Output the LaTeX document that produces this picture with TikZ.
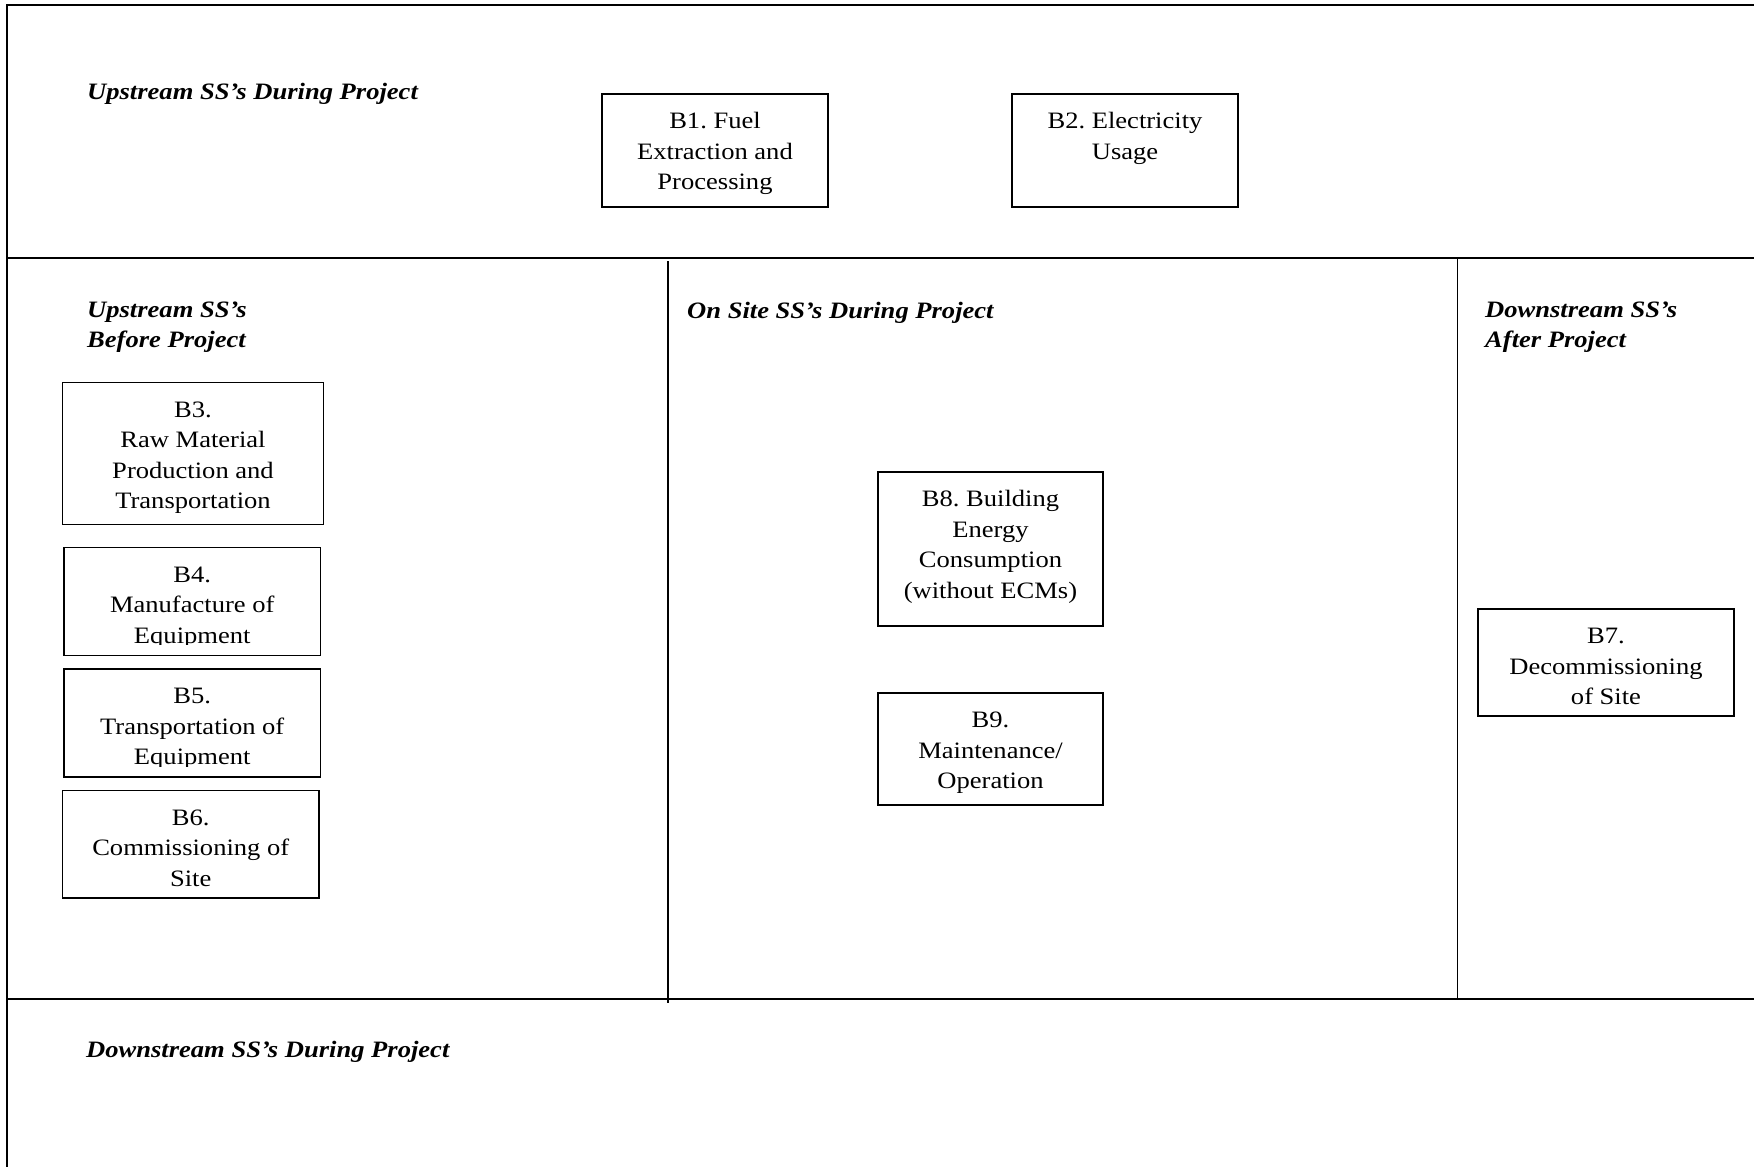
\documentclass[tikz,border=0pt]{standalone}
\usepackage{fontspec}
\setmainfont{Liberation Serif}[FakeStretch=1.13]
\frenchspacing

\newcommand{\boxtext}[3]{\parbox[t][#2][t]{#1}{\centering\rule{0pt}{34.5pt}#3}}
\newcommand{\twolines}[2]{\vtop{\hbox{#1}\hbox{#2}}}

\tikzset{
  frameline/.style={line width=2pt},
  divline/.style={line width=1.7pt},
  sbox/.style={draw, line width=1.5pt, inner sep=0pt, outer sep=0pt, anchor=north west,
    font=\fontsize{23.5pt}{30.5pt}\selectfont},
  sstitle/.style={anchor=base west, inner sep=0pt,
    font=\fontsize{23.5pt}{30.5pt}\selectfont\bfseries\itshape},
}

\begin{document}
\begin{tikzpicture}[x=1pt, y=-1pt]
  \useasboundingbox (0,0) rectangle (1754,1167);

  % frame
  \draw[frameline] (1754,5) -- (7,5) -- (7,1167);
  \draw[frameline] (7,258) -- (1754,258);
  \draw[frameline] (7,999) -- (1754,999);
  \draw[divline] (668,261) -- (668,1003);
  \draw[divline] (1457.5,258) -- (1457.5,999);

  % titles
  \node[sstitle] (upduring) at (87,99) {Upstream SS’s During Project};
  \node[sstitle] (upbefore) at (87,317) {\twolines{Upstream SS’s}{Before Project}};
  \node[sstitle] (onsite) at (687,318) {On Site SS’s During Project};
  \node[sstitle] (downafter) at (1485,317) {\twolines{Downstream SS’s}{After Project}};
  \node[sstitle] (downduring) at (86,1057) {Downstream SS’s During Project};

  % boxes
  \node[sbox] (b1) at (602,94) {\boxtext{226pt}{113pt}{B1. Fuel\\Extraction and\\Processing}};
  \node[sbox] (b2) at (1012,94) {\boxtext{226pt}{113pt}{B2. Electricity\\Usage}};
  \node[sbox] (b3) at (62.5,382.5) {\boxtext{261pt}{142pt}{B3.\\Raw Material\\Production and\\Transportation}};
  \begin{scope}
    \clip (0,540) rectangle (1754,644);
    \node[sbox] (b4) at (64,547.5) {\boxtext{256.5pt}{108pt}{B4.\\Manufacture of\\Equipment}};
  \end{scope}
  \draw[line width=1.5pt] (b4.north west) rectangle (b4.south east);
  \begin{scope}
    \clip (0,660) rectangle (1754,766);
    \node[sbox] (b5) at (64,669) {\boxtext{256.5pt}{108pt}{B5.\\Transportation of\\Equipment}};
  \end{scope}
  \draw[line width=1.5pt] (b5.north west) rectangle (b5.south east);
  \node[sbox] (b6) at (62.5,790.5) {\boxtext{256.5pt}{107.5pt}{B6.\\Commissioning of\\Site}};
  \node[sbox] (b8) at (878,472) {\boxtext{225pt}{154pt}{B8. Building\\Energy\\Consumption\\(without ECMs)}};
  \node[sbox] (b9) at (878,693) {\boxtext{225pt}{112pt}{B9.\\Maintenance/\\Operation}};
  \node[sbox] (b7) at (1478,609) {\boxtext{256pt}{107pt}{B7.\\Decommissioning\\of Site}};
\end{tikzpicture}
\end{document}
